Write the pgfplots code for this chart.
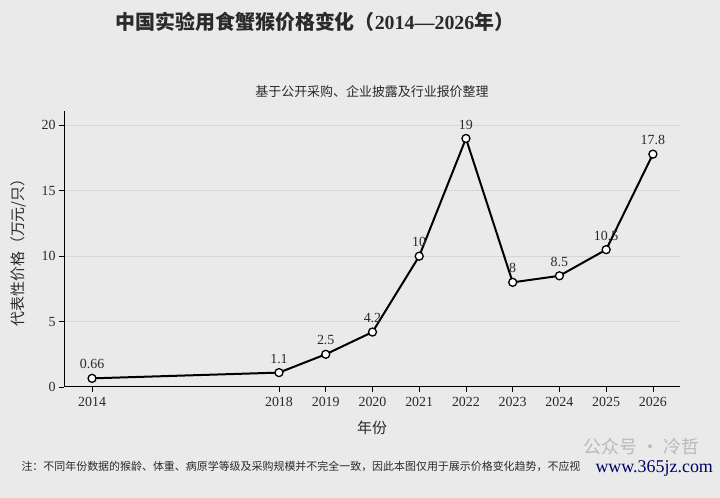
\documentclass[border=0pt]{standalone}
\usepackage{pgfplots}
\pgfplotsset{compat=1.18}
\usepackage{pgfplotstable}
\usepackage{fontspec}
\setmainfont{Liberation Serif}
\newfontfamily\cjk{Noto Sans CJK SC}
\definecolor{bg}{HTML}{EAEAEA}
\definecolor{gridc}{HTML}{D6D6D6}
\definecolor{txt}{HTML}{2A2A2A}
\pgfplotstableread{
year price label
2014 0.66 0.66
2018 1.1 1.1
2019 2.5 2.5
2020 4.2 4.2
2021 10 10
2022 19 19
2023 8 8
2024 8.5 8.5
2025 10.5 10.5
2026 17.8 17.8
}\pricedata
\begin{document}
\begin{tikzpicture}[x=1bp,y=1bp]
\useasboundingbox (0,0) rectangle (720,498);
\fill[bg] (0,0) rectangle (720,498);
\node[txt, font=\fontsize{20}{24}\selectfont\bfseries] at (315,476) {{\cjk\bfseries 中国实验用食蟹猴价格变化（}2014—2026{\cjk\bfseries 年）}};
\node[txt, font=\fontsize{13}{15}\selectfont\cjk] at (372,406) {基于公开采购、企业披露及行业报价整理};
\node[txt, font=\fontsize{11}{13}\selectfont\cjk, anchor=west] at (18,32) {注：不同年份数据的猴龄、体重、病原学等级及采购规模并不完全一致，因此本图仅用于展示价格变化趋势，不应视};
\begin{axis}[
  at={(64bp,111bp)}, anchor=south west,
  scale only axis, width=616bp, height=276bp,
  xmin=2013.4, xmax=2026.58, ymin=0, ymax=21.1,
  axis lines=left,
  axis line style={-, black, line width=1bp},
  xtick={2014,2018,2019,2020,2021,2022,2023,2024,2025,2026},
  ytick={0,5,10,15,20},
  /pgf/number format/1000 sep={},
  /pgf/number format/assume math mode=true,
  tick align=outside,
  major tick length=5bp,
  tick style={black, line width=0.8bp},
  ticklabel style={txt, font=\fontsize{14}{16}\selectfont},
  xticklabel style={yshift=-2bp},
  ymajorgrids,
  grid style={gridc, line width=1bp},
  xlabel={\cjk 年份},
  ylabel={\cjk 代表性价格（万元/只）},
  label style={txt, font=\fontsize{15}{17}\selectfont},
  xlabel style={at={(axis description cs:0.5,0)}, anchor=center, yshift=-41bp},
  ylabel style={at={(axis description cs:0,0.5)}, anchor=center, rotate=0, xshift=0bp, yshift=46bp},
  clip=false,
]
\addplot[draw=none, mark=none, nodes near coords, point meta=explicit symbolic,
  nodes near coords style={txt, font=\fontsize{14}{16}\selectfont, anchor=center, yshift=14bp}]
  table[x=year, y=price, meta=label] {\pricedata};
\addplot[black, line width=2bp, mark=*, mark size=4bp,
  mark options={fill=white, draw=black, line width=1.3bp}]
  table[x=year, y=price] {\pricedata};
\end{axis}
\node[gray!55, font=\fontsize{18}{20}\selectfont\cjk, anchor=west] at (580,51) {公众号 · 冷哲};
\node[blue!40!black, font=\fontsize{18}{20}\selectfont, anchor=west] at (592,30) {www.365jz.com};
\end{tikzpicture}
\end{document}
